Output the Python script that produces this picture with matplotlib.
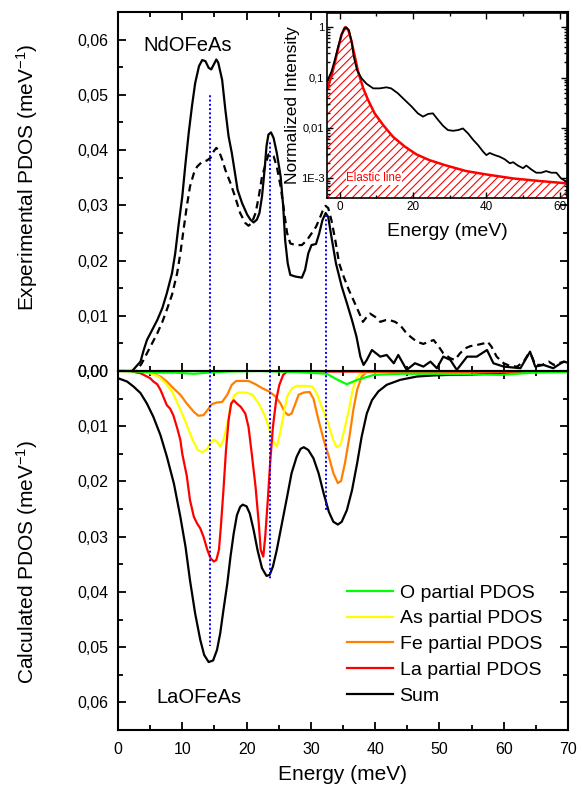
import matplotlib
matplotlib.use("Agg")
import matplotlib.pyplot as plt
import numpy as np
from matplotlib.ticker import MultipleLocator, LogLocator, NullFormatter
from matplotlib.lines import Line2D

plt.rcParams['font.family'] = ['Liberation Sans', 'DejaVu Sans']
plt.rcParams['mathtext.default'] = 'regular'
plt.rcParams['hatch.linewidth'] = 0.8

# ---------------- data ----------------
# Experimental NdOFeAs (solid)
exp1_E = [0, 2.2, 3.5, 4.0, 4.5, 5.3, 6.1, 6.9, 7.6, 8.4, 8.9, 9.4, 10.0, 10.5, 11.0, 11.5, 12.0,
          12.6, 13.1, 13.6, 14.1, 14.5, 14.9, 15.3, 15.6, 16.2, 16.7, 17.2, 17.7, 18.2, 18.6,
          19.3, 20.1, 20.6, 21.1, 21.6, 22.0, 22.4, 22.8, 23.1, 23.4, 23.8, 24.2, 24.7, 25.3,
          25.7, 26.0, 26.4, 26.8, 27.6, 28.6, 29.1, 29.6, 30.1, 30.8, 31.3, 31.8, 32.3, 32.7,
          33.2, 33.9, 34.8, 35.6, 36.4, 37.1, 37.7, 38.2, 38.7, 39.5, 40.8, 41.8, 42.9, 43.6,
          44.9, 46.2, 47.5, 48.6, 49.6, 50.6, 51.7, 52.7, 54.3, 55.8, 57.4, 58.4, 60.0, 62.6,
          64.1, 64.9, 66.2, 67.7, 69.3, 70.0]
exp1_I = [0, 0, 0.0017, 0.0038, 0.0056, 0.0074, 0.0092, 0.0114, 0.0141, 0.0177, 0.0213, 0.0262,
          0.0316, 0.0376, 0.0431, 0.0479, 0.0521, 0.0552, 0.0563, 0.0561, 0.0549, 0.0546, 0.0555,
          0.0564, 0.0558, 0.0527, 0.0473, 0.0425, 0.0395, 0.0358, 0.0328, 0.0304, 0.0283, 0.0274,
          0.0269, 0.0274, 0.0286, 0.0316, 0.0364, 0.0407, 0.0428, 0.0432, 0.0422, 0.0395, 0.0352,
          0.0298, 0.0237, 0.0195, 0.0174, 0.0171, 0.0169, 0.0183, 0.0213, 0.0228, 0.0230, 0.0249,
          0.0273, 0.0286, 0.0279, 0.0243, 0.0195, 0.0153, 0.0123, 0.0092, 0.0062, 0.0026, 0.0011,
          0.0020, 0.0038, 0.0026, 0.0029, 0.0014, 0.0029, 0.0002, 0.0014, 0.0008, 0.0017, 0.0005,
          0.0026, 0.0020, 0.0002, 0.0026, 0.0026, 0.0038, 0.0014, 0.0008, 0.0005, 0.0035, 0.0008,
          0.0011, 0.0005, 0.0017, 0.0015]
# Experimental (dashed)
exp2_E = [0, 2.9, 3.7, 4.5, 5.3, 6.1, 6.9, 7.6, 8.4, 9.2, 9.7, 10.2, 10.7, 11.2, 11.8, 12.3, 13.1,
          13.8, 14.4, 14.9, 15.3, 15.7, 16.2, 16.7, 17.5, 18.2, 19.0, 19.8, 20.3, 20.8, 21.4,
          21.9, 22.4, 23.0, 23.4, 23.8, 24.2, 24.7, 25.3, 25.8, 26.3, 26.8, 27.6, 28.6, 29.4,
          30.1, 30.8, 31.5, 32.0, 32.3, 32.7, 33.2, 33.8, 34.4, 35.1, 35.9, 36.6, 37.4, 38.1,
          38.7, 39.2, 40.0, 40.8, 41.6, 42.3, 43.1, 43.9, 44.7, 45.5, 46.5, 47.5, 48.3, 49.1,
          49.9, 50.6, 51.7, 52.4, 53.2, 54.0, 54.8, 55.8, 56.9, 57.5, 58.1, 58.9, 60.0, 61.0,
          62.1, 63.1, 63.9, 64.4, 64.9, 66.0, 67.0, 67.8, 68.8, 69.6]
exp2_I = [0, 0, 0.0014, 0.0032, 0.0050, 0.0068, 0.0089, 0.0111, 0.0138, 0.0177, 0.0213, 0.0256,
          0.0298, 0.0334, 0.0358, 0.0370, 0.0379, 0.0381, 0.0386, 0.0398, 0.0404, 0.0398, 0.0383,
          0.0364, 0.0340, 0.0316, 0.0286, 0.0268, 0.0263, 0.0268, 0.0286, 0.0316, 0.0352, 0.0376,
          0.0392, 0.0393, 0.0389, 0.0370, 0.0334, 0.0292, 0.0250, 0.0231, 0.0228, 0.0228, 0.0237,
          0.0249, 0.0261, 0.0280, 0.0295, 0.0299, 0.0295, 0.0273, 0.0237, 0.0195, 0.0171, 0.0147,
          0.0129, 0.0108, 0.0089, 0.0098, 0.0104, 0.0098, 0.0089, 0.0092, 0.0092, 0.0089, 0.0083,
          0.0071, 0.0062, 0.0053, 0.0049, 0.0053, 0.0056, 0.0044, 0.0032, 0.0023, 0.0020, 0.0032,
          0.0041, 0.0045, 0.0047, 0.0050, 0.0053, 0.0044, 0.0026, 0.0014, 0.0009, 0.0008, 0.0017,
          0.0032, 0.0026, 0.0011, 0.0011, 0.0017, 0.0011, 0.0015, 0.0017]

# Calculated LaOFeAs (plotted downward)
sum_E = [0, 1.4, 2.4, 3.5, 4.5, 5.5, 6.6, 7.6, 8.7, 9.7, 10.5, 11.2, 12.0, 12.8, 13.4, 14.1, 14.8,
         15.4, 15.9, 16.4, 17.0, 17.5, 18.0, 18.5, 19.0, 19.4, 20.0, 20.5, 21.1, 21.7, 22.4,
         23.1, 23.6, 24.1, 24.7, 25.5, 26.3, 27.0, 27.8, 28.4, 28.9, 29.6, 30.4, 31.2, 32.0,
         32.8, 33.5, 34.2, 34.8, 35.6, 36.4, 37.2, 37.9, 38.7, 39.5, 40.5, 41.8, 43.9, 46.5,
         49.1, 51.7, 54.3, 57.4, 60.5, 63.6, 70.0]
sum_I = [0.0013, 0.0019, 0.0028, 0.0040, 0.0059, 0.0083, 0.0116, 0.0155, 0.0204, 0.0264, 0.0318,
         0.0379, 0.0439, 0.0487, 0.0514, 0.0527, 0.0524, 0.0505, 0.0475, 0.0433, 0.0385, 0.0336,
         0.0294, 0.0261, 0.0246, 0.0242, 0.0245, 0.0258, 0.0288, 0.0324, 0.0357, 0.0371, 0.0369,
         0.0354, 0.0324, 0.0276, 0.0228, 0.0185, 0.0155, 0.0141, 0.0138, 0.0143, 0.0158, 0.0185,
         0.0222, 0.0255, 0.0273, 0.0278, 0.0273, 0.0252, 0.0216, 0.0167, 0.0119, 0.0077, 0.0053,
         0.0037, 0.0025, 0.0016, 0.0010, 0.0008, 0.0007, 0.0007, 0.0005, 0.0004, 0.0002, 0.0]
la_E = [0, 1.9, 3.0, 3.5, 4.5, 5.0, 5.5, 6.1, 6.6, 7.1, 7.6, 8.1, 8.6, 9.2, 9.7, 10.0, 10.7, 11.2,
        11.8, 12.3, 12.8, 13.3, 13.9, 14.4, 14.9, 15.3, 15.7, 16.0, 16.4, 16.8, 17.2, 17.6, 18.0,
        18.5, 19.1, 19.8, 20.3, 20.8, 21.4, 21.9, 22.2, 22.6, 22.9, 23.3, 23.7, 24.1, 24.6, 25.1,
        25.7, 26.3, 70.0]
la_I = [0, 0, 0.0003, 0.0004, 0.0010, 0.0013, 0.0019, 0.0024, 0.0034, 0.0048, 0.0062, 0.0068,
        0.0080, 0.0103, 0.0125, 0.0150, 0.0190, 0.0234, 0.0264, 0.0276, 0.0285, 0.0300, 0.0324,
        0.0339, 0.0345, 0.0342, 0.0324, 0.0282, 0.0216, 0.0143, 0.0089, 0.0059, 0.0053, 0.0059,
        0.0065, 0.0077, 0.0101, 0.0149, 0.0210, 0.0276, 0.0324, 0.0336, 0.0300, 0.0234, 0.0161,
        0.0101, 0.0053, 0.0025, 0.0007, 0.0001, 0.0001]
fe_E = [0, 1.9, 4.0, 5.5, 6.6, 7.6, 8.6, 9.7, 10.7, 11.8, 12.5, 13.3, 13.9, 14.6, 15.4, 16.2, 17.0,
        17.7, 18.4, 19.3, 20.3, 21.4, 22.4, 23.5, 24.5, 25.3, 25.9, 26.5, 27.0, 27.5, 28.1, 28.9,
        29.8, 30.4, 31.2, 32.0, 32.8, 33.5, 34.2, 34.7, 35.3, 36.0, 36.6, 37.2, 37.9, 38.7, 70.0]
fe_I = [0, 0, 0.0002, 0.0005, 0.0010, 0.0019, 0.0031, 0.0043, 0.0059, 0.0074, 0.0081, 0.0080,
        0.0071, 0.0060, 0.0057, 0.0056, 0.0043, 0.0025, 0.0018, 0.0018, 0.0018, 0.0024, 0.0031,
        0.0037, 0.0046, 0.0059, 0.0074, 0.0080, 0.0077, 0.0062, 0.0043, 0.0039, 0.0038, 0.0050,
        0.0089, 0.0125, 0.0155, 0.0185, 0.0203, 0.0199, 0.0167, 0.0119, 0.0071, 0.0034, 0.0010,
        0.0002, 0.0]
as_E = [0, 1.9, 5.0, 6.3, 7.4, 8.4, 9.4, 10.5, 11.5, 12.4, 13.1, 13.8, 14.4, 14.9, 15.4, 15.9,
        16.4, 17.0, 17.5, 18.1, 18.8, 19.9, 20.9, 21.9, 22.8, 23.6, 24.2, 24.7, 25.2, 25.8, 26.3,
        27.1, 27.8, 29.1, 30.2, 30.9, 31.7, 32.5, 33.5, 34.0, 34.6, 35.2, 35.9, 36.5, 37.1, 37.9,
        70.0]
as_I = [0, 0, 0.0004, 0.0010, 0.0022, 0.0037, 0.0062, 0.0092, 0.0122, 0.0143, 0.0147, 0.0142,
        0.0131, 0.0124, 0.0128, 0.0137, 0.0125, 0.0095, 0.0065, 0.0043, 0.0039, 0.0039, 0.0043,
        0.0059, 0.0080, 0.0107, 0.0128, 0.0137, 0.0113, 0.0077, 0.0046, 0.0031, 0.0027, 0.0027,
        0.0028, 0.0040, 0.0065, 0.0089, 0.0125, 0.0138, 0.0134, 0.0107, 0.0071, 0.0034, 0.0013,
        0.0003, 0.0]
o_E = [0, 3.0, 6.0, 9.0, 11.8, 14.0, 17.0, 22.0, 28.0, 32.5, 34.0, 35.6, 37.2, 39.8, 44.0, 49.1,
       54.0, 59.5, 64.6, 70.0]
o_I = [0, 0.0001, 0.0003, 0.0003, 0.0005, 0.0003, 0.0001, 0.0, 0.0002, 0.0005, 0.0015, 0.0024,
       0.0016, 0.0007, 0.0005, 0.0005, 0.0006, 0.0007, 0.0003, 0.0002]

# Blue dotted markers
mark_E = [14.25, 23.6, 32.35]
mark_top = [0.0502, 0.0418, 0.0286]
mark_bottom = [0.0498, 0.0379, 0.0252]

# Inset: normalized intensity
ins_E = [-3.5, -3.2, -2.3, -1.4, -0.45, 0.45, 1.2, 1.8, 2.5, 3.2, 3.8, 4.7, 5.9, 7.3, 9.1, 10.9,
         12.7, 14.0, 15.8, 17.7, 19.5, 21.3, 22.7, 24.1, 25.4, 26.8, 28.2, 29.5, 30.9, 32.3,
         33.6, 35.0, 36.4, 37.7, 39.1, 40.0, 40.9, 42.3, 43.6, 45.0, 46.4, 47.3, 48.6, 50.0,
         50.9, 52.3, 53.6, 55.0, 56.3, 57.7, 59.1, 60.4, 61.8, 62.0]
ins_I = [0.085, 0.093, 0.13, 0.22, 0.41, 0.70, 0.95, 0.98, 0.86, 0.52, 0.26, 0.14, 0.097, 0.075,
         0.061, 0.061, 0.064, 0.061, 0.049, 0.036, 0.027, 0.0195, 0.0168, 0.019, 0.0195, 0.0145,
         0.011, 0.0091, 0.0088, 0.0091, 0.0098, 0.0078, 0.0058, 0.0046, 0.0034, 0.0029, 0.0032,
         0.0029, 0.0027, 0.0024, 0.0020, 0.0021, 0.0018, 0.0016, 0.0018, 0.0015, 0.0013, 0.0013,
         0.0014, 0.0013, 0.0013, 0.0010, 0.00087, 0.00085]
el_E = [-3.5, -3.3, -2.3, -1.4, -0.45, 0.45, 1.5, 2.3, 3.2, 4.1, 5.0, 6.4, 7.7, 9.5, 11.8, 14.5,
        17.7, 20.9, 24.5, 29.1, 34.5, 40.0, 47.3, 54.5, 62.0]
el_I = [0.058, 0.064, 0.105, 0.19, 0.38, 0.70, 1.0, 0.88, 0.52, 0.26, 0.13, 0.061, 0.036, 0.0195,
        0.0115, 0.0067, 0.0043, 0.0030, 0.0023, 0.0018, 0.0014, 0.0012, 0.0010, 0.00089, 0.00080]

ytick_vals = [0.0, 0.01, 0.02, 0.03, 0.04, 0.05, 0.06]
ytick_labels = ['0,00', '0,01', '0,02', '0,03', '0,04', '0,05', '0,06']
xtick_vals = [0, 10, 20, 30, 40, 50, 60, 70]
ins_ytick_vals = [1e-3, 1e-2, 1e-1, 1]
ins_ytick_labels = ['1E-3', '0,01', '0,1', '1']
ins_xtick_vals = [0, 20, 40, 60]

# ---------------- figure ----------------
fig = plt.figure(figsize=(5.82, 7.87), dpi=100)
L, W, H = 118 / 582, 450 / 582, 359 / 787
ax1 = fig.add_axes([L, 1 - 371 / 787, W, H])
ax2 = fig.add_axes([L, 1 - 730 / 787, W, H], sharex=ax1)

lw = 1.6
ax1.plot(exp1_E, exp1_I, color='black', lw=lw)
ax1.plot(exp2_E, exp2_I, color='black', lw=lw, dashes=(3.3, 2.2))
ax1.vlines(mark_E, 0, mark_top, colors='#0000ff', linestyles=(0, (1, 1.2)), lw=1.4)

ax2.plot(sum_E, sum_I, color='black', lw=lw)
ax2.plot(fe_E, fe_I, color='#ff8000', lw=lw)
ax2.plot(as_E, as_I, color='#ffff00', lw=lw)
ax2.plot(la_E, la_I, color='#ff0000', lw=lw)
ax2.plot(o_E, o_I, color='#00ff00', lw=lw)
ax2.vlines(mark_E, 0, mark_bottom, colors='#0000ff', linestyles=(0, (1, 1.2)), lw=1.4)

handles = [Line2D([], [], color='#00ff00', lw=lw), Line2D([], [], color='#ffff00', lw=lw),
           Line2D([], [], color='#ff8000', lw=lw), Line2D([], [], color='#ff0000', lw=lw),
           Line2D([], [], color='black', lw=lw)]
labels = ['O partial PDOS', 'As partial PDOS', 'Fe partial PDOS', 'La partial PDOS', 'Sum']
ax2.legend(handles, labels, loc='upper left', bbox_to_anchor=(347 / 582, 1 - 584 / 787),
           bbox_transform=fig.transFigure, frameon=False, fontsize=14, borderpad=0,
           borderaxespad=0, handlelength=2.35, handletextpad=0.35, labelspacing=0.42)

for ax in (ax1, ax2):
    ax.set_xlim(0, 70)
    ax.set_ylim(0, 0.065)
    ax.set_xticks(xtick_vals)
    ax.xaxis.set_minor_locator(MultipleLocator(5))
    ax.set_yticks(ytick_vals)
    ax.set_yticklabels(ytick_labels)
    ax.yaxis.set_minor_locator(MultipleLocator(0.005))
    ax.tick_params(which='both', direction='in', top=True, right=True, width=1.3, labelsize=11.5)
    ax.tick_params(which='major', length=6)
    ax.tick_params(which='minor', length=3.5)
    ax.tick_params(axis='y', pad=7)
    ax.tick_params(axis='x', pad=8.5)
    for s in ax.spines.values():
        s.set_linewidth(1.5)
ax2.invert_yaxis()
ax1.tick_params(labelbottom=False)
ax2.set_xticklabels([str(v) for v in xtick_vals])
ax2.set_xlabel('Energy (meV)', fontsize=15, labelpad=6)
ax1.set_ylabel('Experimental PDOS (meV$^{-1}$)', fontsize=15)
ax2.set_ylabel('Calculated PDOS (meV$^{-1}$)', fontsize=15)
ax1.yaxis.set_label_coords(-0.174, 0.54)
ax2.yaxis.set_label_coords(-0.174, 0.468)

ax1.text(4.0, 0.0589, 'NdOFeAs', fontsize=14.5, ha='left', va='center')
ax2.text(5.9, 0.0592, 'LaOFeAs', fontsize=14.5, ha='left', va='center')

# ---------------- inset ----------------
axi = fig.add_axes([327 / 582, 1 - 198 / 787, 240 / 582, 185 / 787])
axi.set_yscale('log')
axi.fill_between(el_E, el_I, 1e-5, facecolor='none', edgecolor='#ff0000', hatch='////', lw=0)
axi.plot(el_E, el_I, color='#ff0000', lw=1.8)
axi.plot(ins_E, ins_I, color='black', lw=1.3)
axi.set_xlim(-3.5, 62)
axi.set_ylim(4.1e-4, 1.9)
axi.set_xticks(ins_xtick_vals)
axi.set_xticklabels([str(v) for v in ins_xtick_vals])
axi.xaxis.set_minor_locator(MultipleLocator(10))
axi.set_yticks(ins_ytick_vals)
axi.set_yticklabels(ins_ytick_labels)
axi.yaxis.set_minor_locator(LogLocator(base=10, subs=np.arange(2, 10)))
axi.yaxis.set_minor_formatter(NullFormatter())
axi.tick_params(which='both', direction='in', top=True, right=True, width=1.0, labelsize=8.5, pad=2)
axi.tick_params(axis='y', labelsize=8)
axi.tick_params(which='major', length=4)
axi.tick_params(which='minor', length=2)
for s in axi.spines.values():
    s.set_linewidth(1.2)
axi.set_xlabel('Energy (meV)', fontsize=14, labelpad=7)
axi.set_ylabel('Normalized Intensity', fontsize=12.5)
axi.yaxis.set_label_coords(-0.112, 0.5)
axi.text(1.8, 1.0e-3, 'Elastic line', color='#ff0000', fontsize=8.3, ha='left', va='center',
         bbox=dict(facecolor='white', edgecolor='none', pad=0.5))

fig.savefig('out.png', dpi=100)
